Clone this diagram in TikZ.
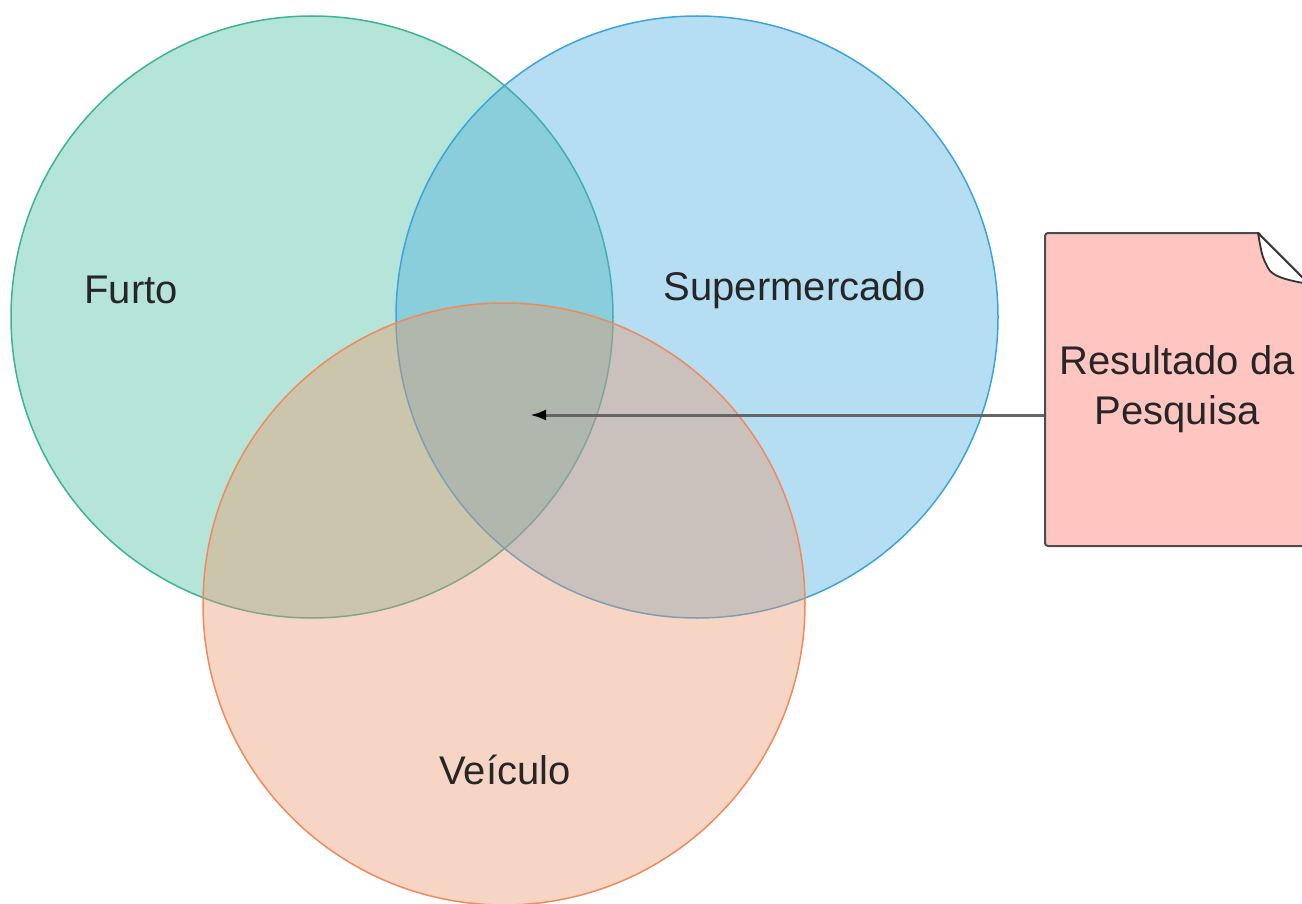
\documentclass[tikz,border=0pt]{standalone}
\usepackage{fontspec}
\setmainfont{Liberation Sans}
\usetikzlibrary{arrows.meta}

\definecolor{furtocor}{RGB}{70,190,157}
\definecolor{furtolinha}{RGB}{60,179,150}
\definecolor{supercor}{RGB}{70,172,222}
\definecolor{superlinha}{RGB}{58,164,224}
\definecolor{veiculocor}{RGB}{235,150,107}
\definecolor{veiculolinha}{RGB}{240,138,93}
\definecolor{notacor}{RGB}{255,198,193}

\begin{document}
\begin{tikzpicture}[x=0.5pt,y=-0.5pt,
    conjunto/.style={circle,inner sep=0pt,minimum size=301pt,line width=0.75pt,fill opacity=0.4},
    rotulo/.style={font=\fontsize{20}{24}\selectfont,text=black!85},
    nota/.style={rectangle,draw=black!70,line width=1pt,fill=notacor,rounded corners=1.5pt,
        minimum width=132pt,minimum height=156.5pt,align=center,font=\fontsize{20}{25}\selectfont,text=black!85}]
            \useasboundingbox (0,0) rectangle (1302,904);
            \clip (0,0) rectangle (1302,904);

            \node (furto) at (312,317) [conjunto,fill=furtocor,draw=furtolinha] {};
            \node (super) at (697,317) [conjunto,fill=supercor,draw=superlinha] {};
            \node (veiculo) at (504,604) [conjunto,fill=veiculocor,draw=veiculolinha] {};

            \node (lfurto) at (131,290) [rotulo] {Furto};
            \node (lsuper) at (795,290) [rotulo] {Supermercado};
            \node (lveiculo) at (505,770) [rotulo] {Veículo};

            \node (res) at (1177,389.5) [nota] {Resultado da\\Pesquisa};
            \fill[white] (1258,231) -- (1312,231) -- (1312,285) -- cycle;
            \draw[black!80,line width=0.9pt,fill=white,line join=round] (1258,233) -- (1309,284)
                .. controls (1285,280) and (1272,276) .. (1268,268) .. controls (1262,256) .. cycle;

            \coordinate (alvo) at (530,415);
            \draw[black!60,line width=1.5pt,-{Latex[length=8pt,width=5.5pt,black]}] (res.west |- alvo) -- (alvo);
        \end{tikzpicture}
\end{document}
